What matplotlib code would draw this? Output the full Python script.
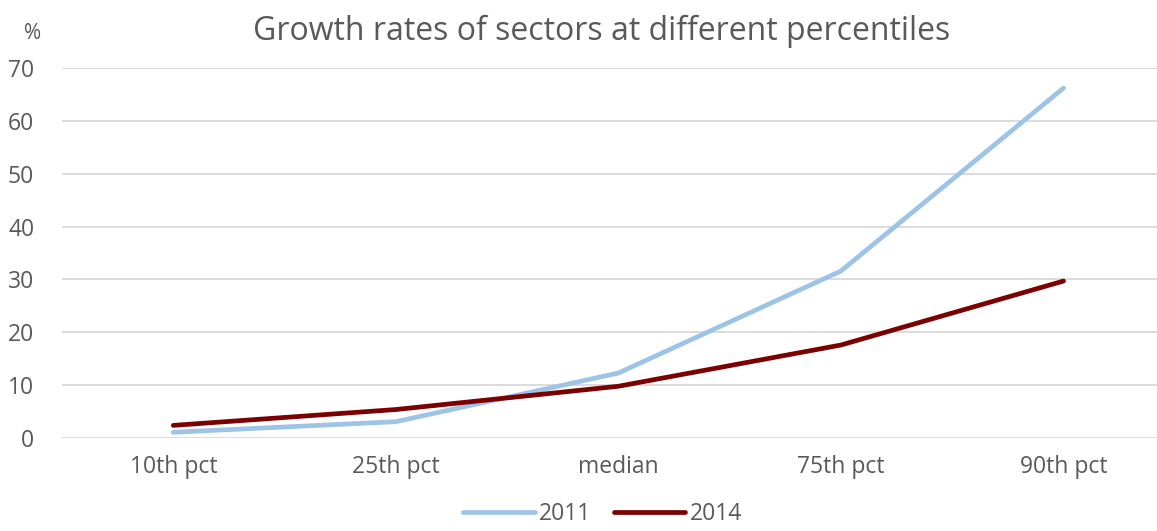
import numpy as np
import matplotlib.pyplot as plt

plt.rcParams['font.family'] = ['Open Sans', 'DejaVu Sans']

categories = ['10th pct', '25th pct', 'median', '75th pct', '90th pct']
growth_2011 = [1.1, 3.1, 12.3, 31.6, 66.2]
growth_2014 = [2.4, 5.4, 9.8, 17.6, 29.7]

text_col = '#595959'

fig = plt.figure(figsize=(11.57, 5.31), dpi=100)
ax = fig.add_axes([0.0536, 0.175, 0.9464, 0.697])

x = np.arange(len(categories))
ax.plot(x, growth_2011, color='#9DC3E6', linewidth=3.4, solid_capstyle='round', label='2011')
ax.plot(x, growth_2014, color='#7B0000', linewidth=3.4, solid_capstyle='round', label='2014')

ax.set_ylim(0, 70)
ax.set_yticks(range(0, 71, 10))
ax.set_xlim(-0.5, 4.42)
ax.set_xticks(x)
ax.set_xticklabels(categories)
ax.grid(axis='y', color='#d9d9d9', linewidth=1.3)
ax.set_axisbelow(True)
for s in ax.spines.values():
    s.set_visible(False)
ax.tick_params(axis='x', length=0, labelsize=16.5, colors=text_col, pad=12)
ax.tick_params(axis='y', length=0, labelsize=16.5, colors=text_col, pad=20)

fig.text(0.028, 0.937, '%', fontsize=15, color=text_col, ha='center', va='center')
fig.text(0.52, 0.94, 'Growth rates of sectors at different percentiles',
         fontsize=23, color=text_col, ha='center', va='center')

fig.legend(loc='lower center', bbox_to_anchor=(0.521, -0.03), ncol=2, frameon=False,
           fontsize=16.5, labelcolor=text_col, handlelength=3.1, handletextpad=0.2,
           columnspacing=1.0)

fig.savefig('out.png', dpi=100)
